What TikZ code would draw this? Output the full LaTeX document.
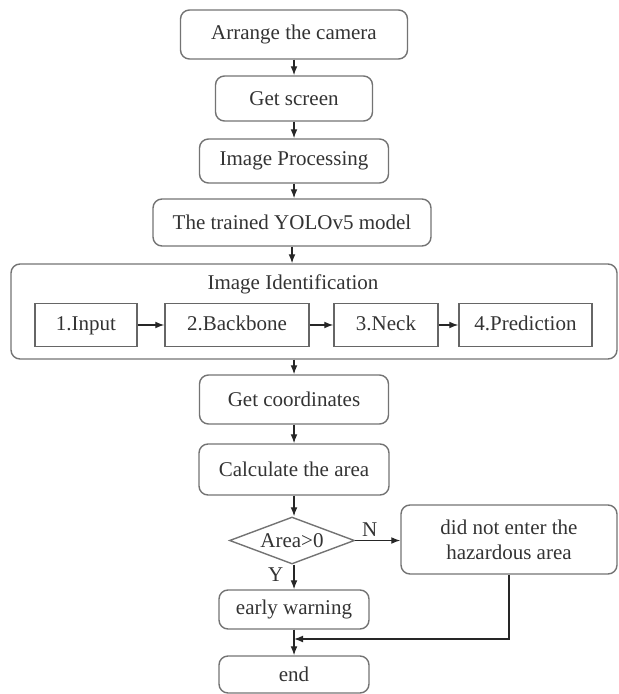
\documentclass[tikz,border=0pt]{standalone}
\usepackage{fontspec}
\setmainfont{Liberation Serif}
\usetikzlibrary{arrows.meta,shapes.geometric}

\begin{document}
\begin{tikzpicture}[x=0.5pt,y=-0.5pt,>={Latex[length=4.5pt,width=3.4pt]},
  every node/.style={font=\fontsize{10.5}{12.5}\selectfont,text=black!80},
  rbox/.style={draw=black!55,line width=0.7pt,rounded corners=4.5pt,inner sep=0pt},
  sbox/.style={draw=black!60,line width=0.7pt,inner sep=0pt,minimum height=21.5pt,
    text height=7.5pt,text depth=2pt},
  flow/.style={->,draw=black!85,line width=0.6pt}]
  \useasboundingbox (0,0) rectangle (618,694);
  \node[rbox,minimum width=113.5pt,minimum height=24.5pt] (cam) at (294,34.5) {Arrange the camera};
  \node[rbox,minimum width=78.5pt,minimum height=22.5pt] (screen) at (294,98.5) {Get screen};
  \node[rbox,minimum width=94.5pt,minimum height=22pt] (proc) at (294,161) {Image Processing};
  \node[rbox,minimum width=139pt,minimum height=23.5pt] (yolo) at (292,222.5) {The trained YOLOv5 model};
  \foreach \a/\b in {cam/screen,screen/proc,proc/yolo} \draw[flow] (\a) -- (\a |- \b.north);
  \node[rbox,minimum width=303pt,minimum height=47.5pt] (ident) at (314,311.5) {};
  \node (ttl) at (293,284) {Image Identification};
  \node[sbox,minimum width=51pt] (input) at (86,325) {1.Input};
  \node[sbox,minimum width=72pt] (backbone) at (237,325) {2.Backbone};
  \node[sbox,minimum width=52pt] (neck) at (386,325) {3.Neck};
  \node[sbox,minimum width=66.5pt] (pred) at (525.5,325) {4.Prediction};
  \foreach \a/\b in {input/backbone,backbone/neck,neck/pred} \draw[flow] (\a) -- (\b);
  \draw[flow] (yolo) -- (yolo |- ident.north);
  \node[rbox,minimum width=94.5pt,minimum height=24.5pt] (coord) at (294,399.5) {Get coordinates};
  \draw[flow] (coord |- ident.south) -- (coord);
  \node[rbox,minimum width=95pt,minimum height=25.5pt] (area) at (294,469.5) {Calculate the area};
  \node[diamond,aspect=2.66,draw=black!55,line width=0.7pt,inner sep=0pt,minimum width=62.5pt,minimum height=23.5pt] (dia) at (292,540.5) {Area>0};
  \node[rbox,minimum width=108pt,minimum height=34.5pt,align=center] (haz) at (509,539.5) {did not enter the\\hazardous area};
  \node[rbox,minimum width=75pt,minimum height=19.5pt] (warn) at (294,609.5) {early warning};
  \node[rbox,minimum width=75pt,minimum height=18.5pt] (end) at (294,674.5) {end};
  \coordinate (join) at (294,639);
  \draw[flow] (coord) -- (area);
  \draw[flow] (area) -- (area |- dia.north);
  \draw[flow] (dia) -- (dia -| haz.west) node[pos=0.32,above,inner sep=1.5pt] {N};
  \draw[flow] (dia.south -| warn) -- (warn) node[pos=0.4,left,inner sep=5pt] {Y};
  \draw[flow] (warn) -- (end);
  \draw[flow] (haz) |- (join);
\end{tikzpicture}
\end{document}
